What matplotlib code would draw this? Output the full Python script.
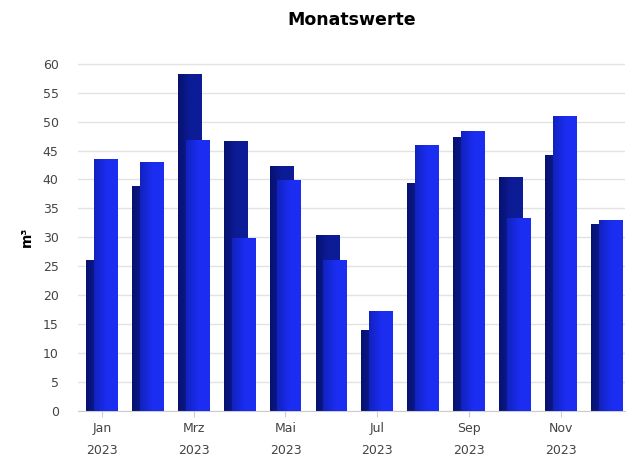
import numpy as np
import matplotlib.pyplot as plt
from matplotlib.colors import LinearSegmentedColormap

monate = ['Jan', 'Feb', 'Mrz', 'Apr', 'Mai', 'Jun', 'Jul', 'Aug', 'Sep', 'Okt', 'Nov', 'Dez']
jahr = '2023'
werte_dunkel = [26.0, 38.8, 58.2, 46.7, 42.4, 30.4, 13.9, 39.3, 47.3, 40.5, 44.3, 32.3]
werte_hell = [43.5, 43.1, 46.9, 29.9, 39.9, 26.1, 17.2, 46.0, 48.3, 33.3, 50.9, 33.0]

fig = plt.figure(figsize=(6.3, 4.7), dpi=100)
ax = fig.add_axes([0.124, 0.126, 0.868, 0.742])

x = np.arange(len(monate))
breite = 0.52
versatz = 0.085

cmap_dunkel = LinearSegmentedColormap.from_list('d', ['#07116e', '#0c1c96', '#0c1c96'])
cmap_hell = LinearSegmentedColormap.from_list('h', ['#1222bd', '#1a2df0', '#1b2ef2'])
verlauf = np.linspace(0, 1, 64).reshape(1, -1)


def balken_mit_verlauf(bars, cmap, z):
    # jeder Balken bekommt einen horizontalen Verlauf (links dunkler)
    for b in bars:
        x0, y0 = b.get_x(), b.get_y()
        w, h = b.get_width(), b.get_height()
        b.set_facecolor('none')
        b.set_edgecolor('none')
        img = ax.imshow(verlauf, cmap=cmap, aspect='auto', extent=[x0, x0 + w, y0, y0 + h],
                        zorder=z, interpolation='bilinear')
        img.set_clip_path(b)


b1 = ax.bar(x - versatz, werte_dunkel, width=breite, zorder=2)
balken_mit_verlauf(b1, cmap_dunkel, 2)
b2 = ax.bar(x + versatz, werte_hell, width=breite, zorder=3)
balken_mit_verlauf(b2, cmap_hell, 3)

ax.set_xlim(-0.52, 11.4)
ax.set_ylim(0, 60.3)
ax.set_yticks(range(0, 61, 5))
ax.grid(axis='y', color='#e3e3e3', linewidth=1, zorder=0)

pos = x[::2]
ax.set_xticks(pos)
ax.set_xticklabels([m + '\n' + jahr for m in monate[::2]], linespacing=1.9)
ax.tick_params(axis='x', length=4, color='#cccccc', labelsize=9, labelcolor='#444444', pad=4)
ax.tick_params(axis='y', length=0, labelsize=9, labelcolor='#444444', pad=14)

for s in ['top', 'right', 'left']:
    ax.spines[s].set_visible(False)
ax.spines['bottom'].set_color('#cccccc')

ax.set_ylabel('m³', fontsize=10, fontweight='bold', labelpad=6)
ax.set_title('Monatswerte', fontsize=12.5, fontweight='bold', pad=27)

plt.savefig('out.png', dpi=100)
